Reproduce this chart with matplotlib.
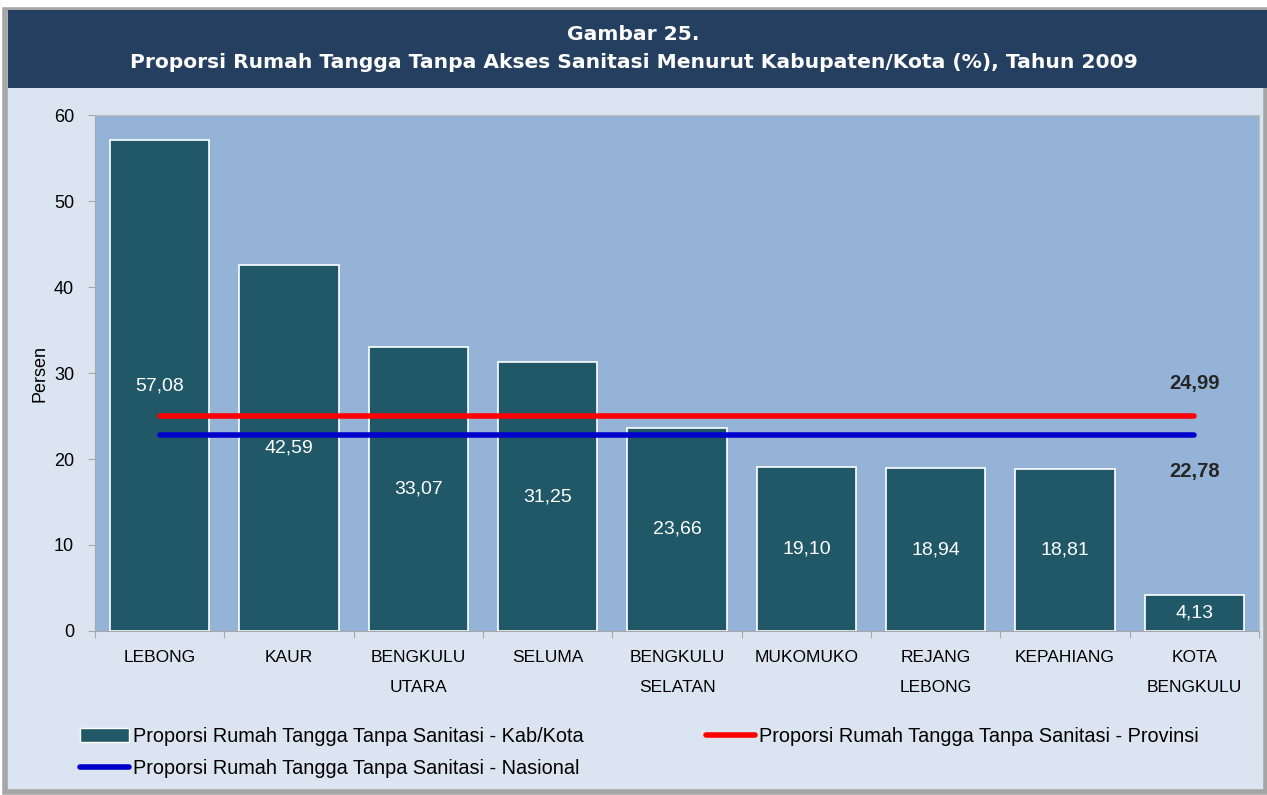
import numpy as np
import matplotlib.pyplot as plt
from matplotlib.patches import Rectangle, Patch
from matplotlib.lines import Line2D

# data
kabkota = ['LEBONG', 'KAUR', 'BENGKULU\nUTARA', 'SELUMA', 'BENGKULU\nSELATAN',
           'MUKOMUKO', 'REJANG\nLEBONG', 'KEPAHIANG', 'KOTA\nBENGKULU']
nilai = [57.08, 42.59, 33.07, 31.25, 23.66, 19.10, 18.94, 18.81, 4.13]
provinsi = [24.99] * len(kabkota)
nasional = [22.78] * len(kabkota)

plt.rcParams['font.family'] = ['Liberation Sans', 'DejaVu Sans']

fig = plt.figure(figsize=(12.67, 7.95), dpi=100)
fig.patch.set_facecolor('white')

# latar belakang dan bingkai
fig.patches.append(Rectangle((0.004, 0.004), 0.995, 0.984, transform=fig.transFigure,
                             facecolor='#DBE5F1', edgecolor='#A6A6A6', linewidth=4, zorder=-3))
fig.patches.append(Rectangle((0.006, 0.889), 0.994, 0.099, transform=fig.transFigure,
                             facecolor='#243F60', edgecolor='none', zorder=-2))
fig.text(0.5, 0.956, 'Gambar 25.', color='white', fontsize=14.6, fontweight='bold',
         ha='center', va='center', family='DejaVu Sans')
fig.text(0.5, 0.922, 'Proporsi Rumah Tangga Tanpa Akses Sanitasi Menurut Kabupaten/Kota (%), Tahun 2009',
         color='white', fontsize=14.6, fontweight='bold', ha='center', va='center', family='DejaVu Sans')

ax = fig.add_axes([0.075, 0.2063, 0.9187, 0.649])
ax.set_facecolor('#95B3D7')
x = np.arange(len(kabkota))
bars = ax.bar(x, nilai, width=0.77, color='#215868', edgecolor='white', linewidth=1.2, zorder=2)
ax.plot(x, provinsi, color='#FF0000', linewidth=4, solid_capstyle='round', zorder=3)
ax.plot(x, nasional, color='#0000CC', linewidth=4, solid_capstyle='round', zorder=3)

for xi, v in zip(x, nilai):
    ax.text(xi, v / 2, f'{v:.2f}'.replace('.', ','), color='white', fontsize=14,
            ha='center', va='center', zorder=4)
ax.text(x[-1], provinsi[-1] + 3.8, f'{provinsi[-1]:.2f}'.replace('.', ','), fontsize=14.5,
        fontweight='bold', color='#262626', ha='center', va='center')
ax.text(x[-1], nasional[-1] - 4.2, f'{nasional[-1]:.2f}'.replace('.', ','), fontsize=14.5,
        fontweight='bold', color='#262626', ha='center', va='center')

ax.set_xlim(-0.5, len(kabkota) - 0.5)
ax.set_ylim(0, 60)
ax.set_yticks(range(0, 61, 10))
ax.set_xticks(np.arange(len(kabkota) + 1) - 0.5, minor=False)
ax.set_xticklabels([])
ax.set_xticks(x, minor=True)
ax.set_xticklabels(kabkota, minor=True, fontsize=12.5, linespacing=2.25, va='top')
ax.tick_params(axis='x', which='minor', length=0, pad=14)
ax.tick_params(axis='x', which='major', length=5, color='#A6A6A6')
ax.tick_params(axis='y', length=5, color='#A6A6A6', labelsize=13, pad=10)
ax.set_ylabel('Persen', fontsize=13, labelpad=4)
for s in ['left', 'bottom']:
    ax.spines[s].set_color('#A6A6A6')
for s in ['top', 'right']:
    ax.spines[s].set_color('#C0C0C0')
ax.axhline(60, color='#A6A6A6', linewidth=1)

# legenda
h_bar = Patch(facecolor='#215868', edgecolor='white')
h_prov = Line2D([], [], color='#FF0000', linewidth=4, solid_capstyle='round')
h_nas = Line2D([], [], color='#0000CC', linewidth=4, solid_capstyle='round')
fig.legend([h_bar, h_nas], ['Proporsi Rumah Tangga Tanpa Sanitasi - Kab/Kota',
                            'Proporsi Rumah Tangga Tanpa Sanitasi - Nasional'],
           loc='upper left', bbox_to_anchor=(0.063, 0.086), frameon=False,
           fontsize=14.3, handlelength=2.5, handletextpad=0.2, labelspacing=0.65,
           borderaxespad=0, borderpad=0, bbox_transform=fig.transFigure)
fig.legend([h_prov], ['Proporsi Rumah Tangga Tanpa Sanitasi - Provinsi'],
           loc='upper left', bbox_to_anchor=(0.557, 0.086), frameon=False,
           fontsize=14.3, handlelength=2.5, handletextpad=0.2, borderaxespad=0,
           borderpad=0, bbox_transform=fig.transFigure)

fig.savefig('out.png', dpi=100, facecolor=fig.get_facecolor())
